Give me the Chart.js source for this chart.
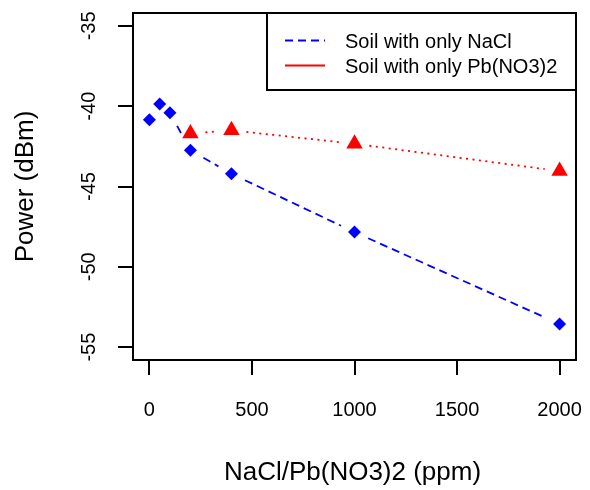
<!DOCTYPE html>
<html lang="en">
<head>
<meta charset="UTF-8">
<title>Power vs NaCl / Pb(NO3)2</title>
<script src="https://cdn.jsdelivr.net/npm/chart.js"></script>
<style>
  body { margin: 0; background: #fff; }
  canvas { display: block; }
</style>
</head>
<body>
<canvas id="chart" width="590" height="490"></canvas>
<script>
// data
const naclPpm = [0, 50, 100, 200, 400, 1000, 2000];
const naclPower = [-40.85, -39.87, -40.41, -42.75, -44.21, -47.84, -53.56];
const pbPpm = [200, 400, 1000, 2000];
const pbPower = [-41.7, -41.5, -42.34, -44.04];
const xTicks = [0, 500, 1000, 1500, 2000];
const yTicks = [-55, -50, -45, -40, -35];
const seriesNames = ['Soil with only NaCl', 'Soil with only Pb(NO3)2'];

const FONT = '"Liberation Sans", Arial, sans-serif';
const GAP = 15;          // type="b" style gap around each point
const lineDash = [[8, 5], [2, 4.5]];
const legendDash = [[8, 5], []];

const toPoints = (xs, ys) => xs.map((x, i) => ({ x: x, y: ys[i] }));

const decorations = {
    id: 'decorations',
    beforeDatasetsDraw(chart) {
        const ctx = chart.ctx;
        chart.data.datasets.forEach((ds, i) => {
            const pts = chart.getDatasetMeta(i).data;
            ctx.save();
            ctx.strokeStyle = ds.backgroundColor;
            ctx.lineWidth = 1.8;
            ctx.setLineDash(lineDash[i]);
            for (let k = 1; k < pts.length; k++) {
                const a = pts[k - 1], b = pts[k];
                const dx = b.x - a.x, dy = b.y - a.y;
                const d = Math.hypot(dx, dy);
                if (d <= 2 * GAP) continue;
                const ux = dx / d, uy = dy / d;
                ctx.beginPath();
                ctx.moveTo(a.x + ux * GAP, a.y + uy * GAP);
                ctx.lineTo(b.x - ux * GAP, b.y - uy * GAP);
                ctx.stroke();
            }
            ctx.restore();
        });
    },
    afterDraw(chart) {
        const ctx = chart.ctx;
        const area = chart.chartArea;
        const xs = chart.scales.x, ys = chart.scales.y;
        ctx.save();
        // box
        ctx.strokeStyle = '#000';
        ctx.lineWidth = 2;
        ctx.strokeRect(area.left, area.top, area.right - area.left, area.bottom - area.top);

        ctx.fillStyle = '#000';
        // x tick labels
        ctx.font = '20px ' + FONT;
        ctx.textAlign = 'center';
        ctx.textBaseline = 'alphabetic';
        xTicks.forEach(v => ctx.fillText(String(v), xs.getPixelForValue(v), 416));
        // y tick labels, rotated
        yTicks.forEach(v => {
            ctx.save();
            ctx.translate(95, ys.getPixelForValue(v));
            ctx.rotate(-Math.PI / 2);
            ctx.fillText(String(v), 0, 0);
            ctx.restore();
        });
        // axis titles
        ctx.font = '26px ' + FONT;
        ctx.fillText('NaCl/Pb(NO3)2 (ppm)', (area.left + area.right) / 2 - 2, 480);
        ctx.save();
        ctx.translate(33, (area.top + area.bottom) / 2);
        ctx.rotate(-Math.PI / 2);
        ctx.fillText('Power (dBm)', 0, 0);
        ctx.restore();

        // legend
        const lx = 267, ly = area.top, lw = area.right - 267, lh = 77;
        ctx.fillStyle = '#fff';
        ctx.fillRect(lx, ly, lw, lh);
        ctx.lineWidth = 2;
        ctx.strokeRect(lx, ly, lw, lh);
        ctx.font = '20px ' + FONT;
        ctx.textAlign = 'left';
        chart.data.datasets.forEach((ds, i) => {
            const y = 40.5 + i * 25;
            ctx.strokeStyle = ds.backgroundColor;
            ctx.lineWidth = 1.8;
            ctx.setLineDash(legendDash[i]);
            ctx.beginPath();
            ctx.moveTo(285, y);
            ctx.lineTo(325, y);
            ctx.stroke();
            ctx.setLineDash([]);
            ctx.fillStyle = '#000';
            ctx.fillText(seriesNames[i], 345, y + 7.5);
        });
        ctx.restore();
    }
};

const axisCommon = {
    type: 'linear',
    border: { display: false },
    grid: {
        drawOnChartArea: false,
        drawTicks: true,
        tickLength: 15,
        color: '#000',
        lineWidth: 2
    },
    ticks: { display: false }
};

new Chart(document.getElementById('chart'), {
    type: 'scatter',
    data: {
        datasets: [
            {
                label: seriesNames[0],
                data: toPoints(naclPpm, naclPower),
                backgroundColor: '#0000FF',
                borderWidth: 0,
                pointStyle: 'rectRot',
                pointRadius: 6.5
            },
            {
                label: seriesNames[1],
                data: toPoints(pbPpm, pbPower),
                backgroundColor: '#FF0000',
                borderWidth: 0,
                pointStyle: 'triangle',
                pointRadius: 9.5
            }
        ]
    },
    options: {
        responsive: false,
        animation: false,
        layout: { padding: { left: 0, top: 13, right: 14, bottom: 0 } },
        plugins: { legend: { display: false }, tooltip: { enabled: false } },
        scales: {
            x: Object.assign({}, axisCommon, {
                min: -80, max: 2080,
                afterBuildTicks: s => { s.ticks = xTicks.map(v => ({ value: v })); },
                afterFit: s => { s.height = 130; }
            }),
            y: Object.assign({}, axisCommon, {
                min: -55.8, max: -34.2,
                afterBuildTicks: s => { s.ticks = yTicks.map(v => ({ value: v })); },
                afterFit: s => { s.width = 133; }
            })
        }
    },
    plugins: [decorations]
});
</script>
</body>
</html>
